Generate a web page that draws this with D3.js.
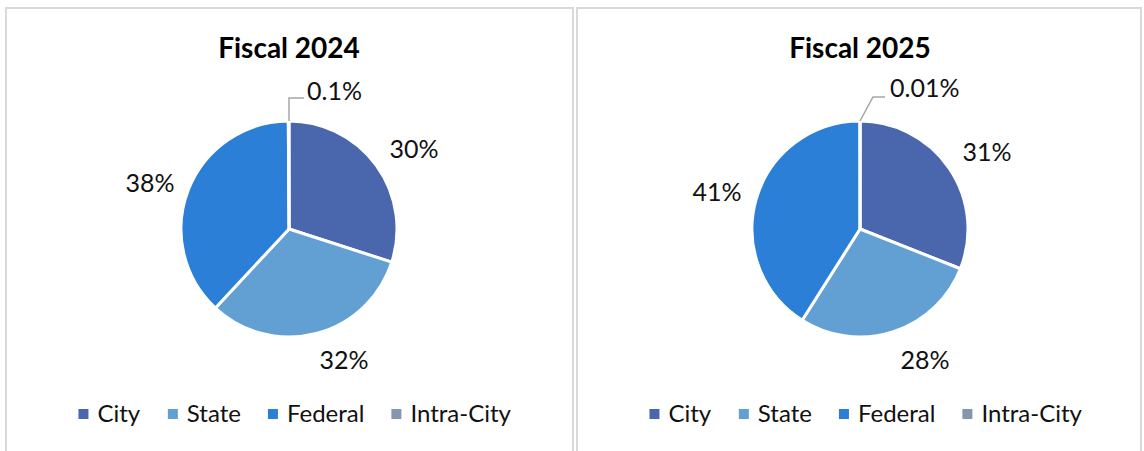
<!DOCTYPE html>
<html>
<head>
<meta charset="utf-8">
<script src="https://cdn.jsdelivr.net/npm/d3@7"></script>
<style>
    body { margin: 0; background: #fff; }
    svg { display: block; font-family: Lato, "Noto Sans", sans-serif; }
</style>
</head>
<body>
<div id="chart"></div>
<script>
// DATA
const categories = ["City", "State", "Federal", "Intra-City"];
const colors = ["#4a67ad", "#629fd2", "#2b7fd7", "#8496b0"];

const titles = ["Fiscal 2024", "Fiscal 2025"];
const values2024 = [30, 32, 38, 0.1];
const values2025 = [31, 28, 41, 0.01];
const labels2024 = ["30%", "32%", "38%", "0.1%"];
const labels2025 = ["31%", "28%", "41%", "0.01%"];

// CHART VARIABLES
const width = 1144;
const height = 451;
const radius = 108;

const svg = d3.select("#chart")
    .append("svg")
        .attr("width", width)
        .attr("height", height);

// panel layout; label offsets are relative to the pie center
const panels = [
    {
        x0: 6, x1: 573, cx: 289, cy: 229, legendX: 295,
        values: values2024, labels: labels2024, title: titles[0],
        labelPos: [[125, -80], [55, 131], [-139, -46]],
        leader: [[0, -radius], [0, -131], [15, -131]],
        smallLabel: [18, -138]
    },
    {
        x0: 577, x1: 1141, cx: 860, cy: 229, legendX: 866,
        values: values2025, labels: labels2025, title: titles[1],
        labelPos: [[127, -77], [65, 131], [-143, -37]],
        leader: [[0, -radius], [13, -132], [25, -132]],
        smallLabel: [30, -141]
    }
];

const pie = d3.pie().sort(null).value(d => d);
const arc = d3.arc().innerRadius(0).outerRadius(radius);

panels.forEach(p => {
    // panel frame
    svg.append("rect")
        .attr("x", p.x0)
        .attr("y", 8)
        .attr("width", p.x1 - p.x0)
        .attr("height", height + 10)
        .attr("fill", "#fff")
        .attr("stroke", "#d9d9d9")
        .attr("stroke-width", 2);

    svg.append("text")
        .attr("x", p.cx)
        .attr("y", 58)
        .attr("text-anchor", "middle")
        .attr("font-size", 28)
        .attr("font-weight", "bold")
        .attr("fill", "#000")
        .text(p.title);

    const g = svg.append("g")
        .attr("transform", `translate(${p.cx},${p.cy})`);

    g.selectAll("path")
        .data(pie(p.values))
        .join("path")
            .attr("d", arc)
            .attr("fill", (d, i) => colors[i])
            .attr("stroke", "#fff")
            .attr("stroke-width", 3)
            .attr("stroke-linejoin", "round");

    // big labels
    p.labelPos.forEach(([x, y], i) => {
        g.append("text")
            .attr("x", x)
            .attr("y", y)
            .attr("dy", "0.35em")
            .attr("text-anchor", "middle")
            .attr("font-size", 25)
            .attr("fill", "#111")
            .text(p.labels[i]);
    });

    // leader line for the tiny slice
    g.append("path")
        .attr("d", d3.line()(p.leader))
        .attr("fill", "none")
        .attr("stroke", "#a6a6a6")
        .attr("stroke-width", 1.5);

    g.append("text")
        .attr("x", p.smallLabel[0])
        .attr("y", p.smallLabel[1])
        .attr("dy", "0.35em")
        .attr("font-size", 25)
        .attr("fill", "#111")
        .text(p.labels[3]);

    // legend
    const legend = svg.append("g")
        .attr("transform", `translate(${p.legendX},414)`);

    const items = legend.selectAll("g")
        .data(categories)
        .join("g");

    items.append("rect")
        .attr("y", -5)
        .attr("width", 10)
        .attr("height", 10)
        .attr("fill", (d, i) => colors[i]);

    items.append("text")
        .attr("x", 19)
        .attr("dy", "0.35em")
        .attr("font-size", 24)
        .attr("fill", "#111")
        .text(d => d);

    // lay out legend items in a centered row
    let xPos = 0;
    const offsets = [];
    items.each(function() {
        offsets.push(xPos);
        xPos += this.getBBox().width + 27;
    });
    const total = xPos - 27;
    items.attr("transform", (d, i) => `translate(${offsets[i] - total / 2},0)`);
});
</script>
</body>
</html>
